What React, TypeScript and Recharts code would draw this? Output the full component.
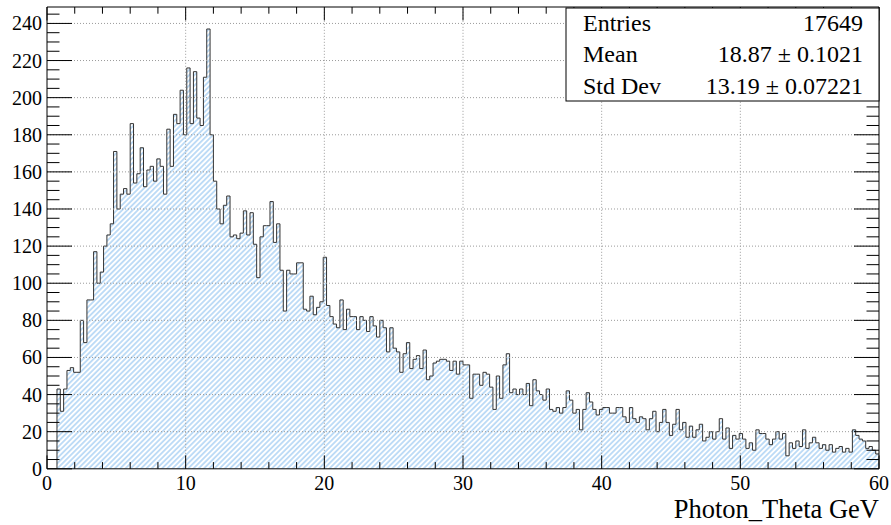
import React from 'react';
import { ComposedChart, Area, XAxis, YAxis, ReferenceLine } from 'recharts';

// Photon_Theta histogram: 250 bins of 0.24 GeV between 0 and 60
const binWidth = 0.24;
const counts = [
  0, 0, 0, 43, 31, 43, 53, 54.5, 52, 52,
  80, 68, 91, 91, 117, 100, 106, 120, 126, 132,
  171, 140, 148, 151, 148, 186, 154, 159, 173, 152,
  161, 163, 155, 167, 163, 148, 183, 163, 191, 186,
  204, 180, 216, 186, 214, 189, 185, 211, 237, 180,
  155, 140, 132, 142, 147, 125, 126, 124, 127, 139,
  126, 138, 121, 103, 125, 131, 131, 144, 122, 132,
  107, 85, 107, 105, 105, 111, 111, 86, 85, 93,
  83, 87, 90, 114, 88, 82, 78, 76, 91, 75,
  86, 82, 82, 75, 82, 80, 74, 82, 77, 71,
  80, 76, 63, 76, 65, 63, 52, 62, 68, 54,
  59, 61, 54, 64, 48, 50, 57, 58, 59, 59,
  58, 53, 58, 51, 58, 56, 56, 38, 51, 51,
  45, 52, 51, 44, 32, 50, 38, 56, 62, 41,
  43, 40, 43, 40, 46, 34, 48, 42, 40, 37,
  43, 32, 31, 33, 30, 33, 42, 37, 30, 32,
  21, 32, 41, 36, 32, 29, 32, 33, 33, 30,
  30, 33, 33, 28, 25, 33, 27, 25, 28, 27,
  21, 27, 31, 20, 25, 32, 25, 18, 24, 32,
  21, 25, 17, 23, 17, 21, 24, 15, 17, 20,
  16, 20, 27, 16, 22, 11, 18, 16, 19, 16,
  11, 14, 10, 21, 19, 19, 16, 13, 16, 20,
  16, 19, 7, 14, 11, 15, 12, 21, 11, 14,
  17, 14, 11, 13, 10, 13, 9, 11, 12, 9,
  11, 9, 21, 18, 16, 15, 11, 12, 10, 8,
];

const xLabels = [0, 10, 20, 30, 40, 50, 60];
const yLabels = [0, 20, 40, 60, 80, 100, 120, 140, 160, 180, 200, 220, 240];
const xGrid = [10, 20, 30, 40, 50];
const yGrid = [20, 40, 60, 80, 100, 120, 140, 160, 180, 200, 220, 240];

const statNames = ['Entries', 'Mean', 'Std Dev'];
const statValues = ['17649', '18.87 \u00b1 0.1021', '13.19 \u00b1 0.07221'];

const xMax = 60;
const yMax = 248.85;

// step points at each bin's low edge, plus the closing edge at 60
const data = counts.map((v, i) => ({ x: +(i * binWidth).toFixed(2), v }));
data.push({ x: xMax, v: counts[counts.length - 1] });

const xTicks: number[] = [];
for (let t = 0; t <= xMax; t += 2) xTicks.push(t);
const yTicks: number[] = [];
for (let t = 0; t <= 245; t += 5) yTicks.push(t);

const W = 891;
const H = 525;
const PLOT = { left: 47, right: 879, top: 7, bottom: 468.8 };

const FONT = '"Liberation Serif", "Times New Roman", serif';
const TICK_X = 13.4;
const TICK_Y = 25;

const BottomTick = (props: any) => {
  const { x, y, payload } = props;
  const major = xLabels.includes(payload.value);
  return (
    <g>
      <line x1={x} y1={y} x2={x} y2={y - (major ? TICK_X : TICK_X / 2)} stroke="#000" />
      {major && (
        <text x={x} y={y + 21} textAnchor="middle" fontFamily={FONT} fontSize={20} fill="#000">
          {payload.value}
        </text>
      )}
    </g>
  );
};

const TopTick = (props: any) => {
  const { x, y, payload } = props;
  const major = xLabels.includes(payload.value);
  return <line x1={x} y1={y} x2={x} y2={y + (major ? TICK_X : TICK_X / 2)} stroke="#000" />;
};

const LeftTick = (props: any) => {
  const { x, y, payload } = props;
  const major = yLabels.includes(payload.value);
  return (
    <g>
      <line x1={x} y1={y} x2={x + (major ? TICK_Y : TICK_Y / 2)} y2={y} stroke="#000" />
      {major && (
        <text x={x - 5} y={y + 7} textAnchor="end" fontFamily={FONT} fontSize={20} fill="#000">
          {payload.value}
        </text>
      )}
    </g>
  );
};

const RightTick = (props: any) => {
  const { x, y, payload } = props;
  const major = yLabels.includes(payload.value);
  return <line x1={x} y1={y} x2={x - (major ? TICK_Y : TICK_Y / 2)} y2={y} stroke="#000" />;
};

const StatsBox = () => {
  const left = 566;
  const top = PLOT.top + 1;
  const w = PLOT.right - left;
  const h = 93;
  return (
    <svg width={W} height={H} style={{ position: 'absolute', left: 0, top: 0, pointerEvents: 'none' }}>
      <rect x={left} y={top} width={w} height={h} fill="#fff" stroke="#000" strokeWidth={1} />
      {statNames.map((name, i) => (
        <g key={name}>
          <text x={left + 17} y={top + 22.5 + i * 31.5} fontFamily={FONT} fontSize={24} fill="#000">
            {name}
          </text>
          <text x={PLOT.right - 16} y={top + 22.5 + i * 31.5} textAnchor="end" fontFamily={FONT} fontSize={24} fill="#000">
            {statValues[i]}
          </text>
        </g>
      ))}
      <text x={PLOT.right} y={518} textAnchor="end" fontFamily={FONT} fontSize={26.5} fill="#000">
        Photon_Theta GeV
      </text>
    </svg>
  );
};

export default function App() {
  return (
    <div style={{ position: 'absolute', left: 0, top: 0, width: W, height: H, background: '#fff' }}>
      <svg width={0} height={0} style={{ position: 'absolute' }}>
        <defs>
          <pattern id="hatch" patternUnits="userSpaceOnUse" width={3.7} height={3.7} patternTransform="rotate(45)">
            <line x1={1.85} y1={0} x2={1.85} y2={3.7} stroke="#84bcef" strokeWidth={1} />
          </pattern>
        </defs>
      </svg>
      <ComposedChart width={W} height={H} data={data} margin={{ top: 0, right: 0, bottom: 0, left: 0 }}>
        <XAxis
          dataKey="x"
          type="number"
          domain={[0, xMax]}
          ticks={xTicks}
          interval={0}
          height={H - PLOT.bottom}
          tickLine={false}
          tickSize={0}
          tickMargin={0}
          tick={BottomTick}
          axisLine={{ stroke: '#000' }}
          allowDataOverflow
        />
        <XAxis
          xAxisId="top"
          orientation="top"
          dataKey="x"
          type="number"
          domain={[0, xMax]}
          ticks={xTicks}
          interval={0}
          height={PLOT.top}
          tickLine={false}
          tickSize={0}
          tickMargin={0}
          tick={TopTick}
          axisLine={{ stroke: '#000' }}
          allowDataOverflow
        />
        <YAxis
          type="number"
          domain={[0, yMax]}
          ticks={yTicks}
          interval={0}
          width={PLOT.left}
          tickLine={false}
          tickSize={0}
          tickMargin={0}
          tick={LeftTick}
          axisLine={{ stroke: '#000' }}
          allowDataOverflow
        />
        <YAxis
          yAxisId="right"
          orientation="right"
          type="number"
          domain={[0, yMax]}
          ticks={yTicks}
          interval={0}
          width={W - PLOT.right}
          tickLine={false}
          tickSize={0}
          tickMargin={0}
          tick={RightTick}
          axisLine={{ stroke: '#000' }}
          allowDataOverflow
        />
        {xGrid.map((g) => (
          <ReferenceLine key={'x' + g} x={g} stroke="#9a9a9a" strokeDasharray="1 2" />
        ))}
        {yGrid.map((g) => (
          <ReferenceLine key={'y' + g} y={g} stroke="#9a9a9a" strokeDasharray="1 2" />
        ))}
        <Area
          dataKey="v"
          type="stepAfter"
          stroke="#333"
          strokeWidth={1}
          fill="url(#hatch)"
          fillOpacity={1}
          dot={false}
          activeDot={false}
          isAnimationActive={false}
        />
      </ComposedChart>
      <StatsBox />
    </div>
  );
}
